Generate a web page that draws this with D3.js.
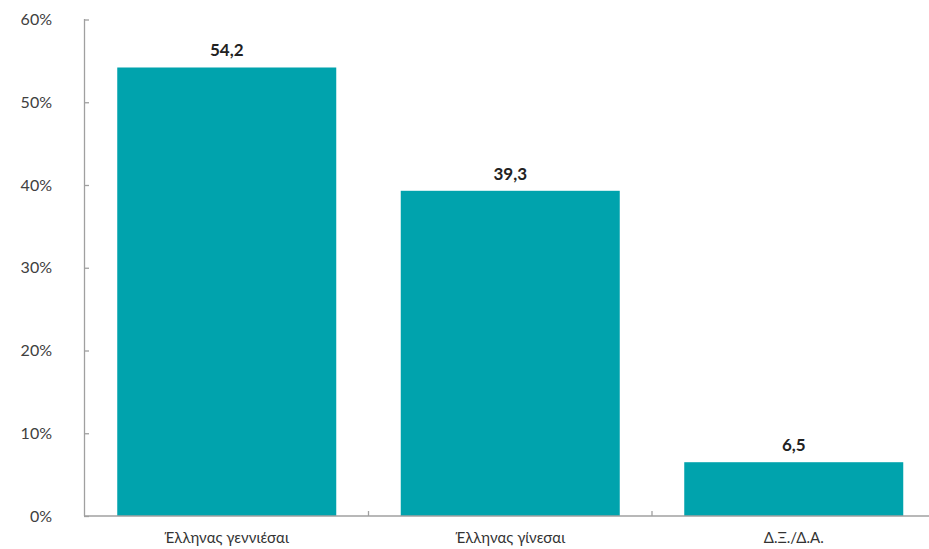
<!DOCTYPE html>
<html><head><meta charset="utf-8">
<script src="https://cdn.jsdelivr.net/npm/d3@7"></script>
<style>body{margin:0;background:#fff}svg{display:block}</style>
</head><body>
<svg id="c" width="929" height="549"></svg>
<script>
const categories = ["Έλληνας γεννιέσαι", "Έλληνας γίνεσαι", "Δ.Ξ./Δ.Α."];
const values = [54.2, 39.3, 6.5];
const valueLabels = ["54,2", "39,3", "6,5"];
const yTicks = [0, 10, 20, 30, 40, 50, 60];

const svg = d3.select("#c");
const x = d3.scaleBand().domain(categories).range([85, 935.5]).paddingInner(0.2275).paddingOuter(0.11375);
const y = d3.scaleLinear().domain([0, 60]).range([516, 19.5]);
const font = "Lato, 'Noto Sans', sans-serif";

svg.selectAll("rect.bar").data(values).join("rect")
  .attr("class","bar")
  .attr("x",(d,i)=>x(categories[i])).attr("width",x.bandwidth())
  .attr("y",d=>y(d)).attr("height",d=>y(0)-y(d))
  .attr("fill","#00a3ad");

// y axis
const ya = svg.append("g").attr("transform","translate(84,0)")
  .call(d3.axisRight(y).tickValues(yTicks).tickSize(5).tickFormat(""));
ya.select(".domain").attr("stroke","#a0a0a0").attr("stroke-width",1.3).attr("d","M0.5,19V516");
ya.selectAll(".tick line").attr("stroke","#a0a0a0").attr("stroke-width",1.3);
svg.append("g").selectAll("text").data(yTicks).join("text")
  .attr("x",52).attr("y",d=>y(d)).attr("dy","0.35em").attr("text-anchor","end")
  .attr("font-family",font).attr("font-size",16).attr("fill","#404040")
  .text(d=>d+"%");

// x axis
const tickPos = [1,2].map(i=>x.range()[0]+i*x.step());
svg.append("line").attr("x1",84).attr("x2",929).attr("y1",516).attr("y2",516)
  .attr("stroke","#a0a0a0").attr("stroke-width",1.3);
svg.append("g").selectAll("line").data(tickPos).join("line")
  .attr("x1",d=>d).attr("x2",d=>d).attr("y1",516).attr("y2",511)
  .attr("stroke","#a0a0a0").attr("stroke-width",1.3);

svg.append("g").selectAll("text").data(categories).join("text")
  .attr("x",d=>x(d)+x.bandwidth()/2).attr("y",543).attr("text-anchor","middle")
  .attr("font-family",font).attr("font-size",15).attr("fill","#333")
  .text(d=>d);

svg.append("g").selectAll("text").data(values).join("text")
  .attr("x",(d,i)=>x(categories[i])+x.bandwidth()/2).attr("y",d=>y(d)-11)
  .attr("text-anchor","middle").attr("font-family",font).attr("font-weight","bold")
  .attr("font-size",17).attr("fill","#222")
  .text((d,i)=>valueLabels[i]);
</script>
</body></html>
